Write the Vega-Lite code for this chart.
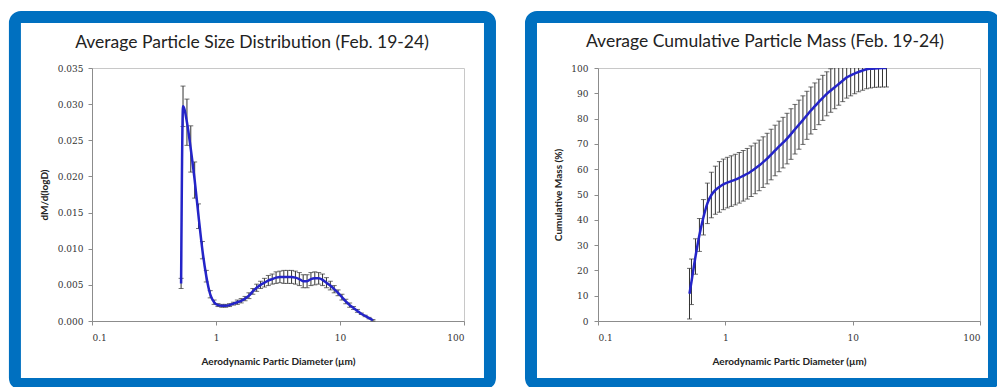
{
  "$schema": "https://vega.github.io/schema/vega-lite/v6.json",
  "background": "white",
  "padding": {"left": 8, "top": 10, "right": 0, "bottom": 0},
  "config": {
    "view": {"stroke": "#C8C8C8", "strokeWidth": 1},
    "axis": {"grid": false, "zindex": 1, "labelOverlap": false, "domainColor": "#8C8C8C", "tickColor": "#8C8C8C", "tickSize": 4, "labelFont": "DejaVu Serif", "labelFontSize": 9, "labelColor": "#333333", "titleFont": "Lato", "titleFontWeight": "bold", "titleFontSize": 10, "titleColor": "#222222"},
    "title": {"font": "Lato", "fontSize": 17.5, "fontWeight": "normal", "color": "#222222", "baseline": "alphabetic", "offset": -40, "anchor": "middle"},
    "concat": {"spacing": 27}
  },
  "hconcat": [
    {
      "width": 372,
      "height": 253,
      "title": {"text": "Average Particle Size Distribution (Feb. 19-24)", "dx": -26},
      "data": {"values": [
        {"d": 0.523, "m": 0.0052, "e": 0.0007},
        {"d": 0.542, "m": 0.0297, "e": 0.0028},
        {"d": 0.583, "m": 0.0275, "e": 0.0032},
        {"d": 0.626, "m": 0.0238, "e": 0.0032},
        {"d": 0.673, "m": 0.0195, "e": 0.0025},
        {"d": 0.723, "m": 0.0145, "e": 0.0017},
        {"d": 0.777, "m": 0.0098, "e": 0.0012},
        {"d": 0.835, "m": 0.0062, "e": 0.0008},
        {"d": 0.898, "m": 0.0037, "e": 0.0005},
        {"d": 0.965, "m": 0.0026, "e": 0.0003},
        {"d": 1.037, "m": 0.0022, "e": 0.0002},
        {"d": 1.114, "m": 0.0021, "e": 0.0002},
        {"d": 1.197, "m": 0.0021, "e": 0.0002},
        {"d": 1.286, "m": 0.0022, "e": 0.0002},
        {"d": 1.382, "m": 0.0024, "e": 0.0002},
        {"d": 1.486, "m": 0.0026, "e": 0.0003},
        {"d": 1.596, "m": 0.0028, "e": 0.0003},
        {"d": 1.715, "m": 0.0031, "e": 0.0003},
        {"d": 1.843, "m": 0.0035, "e": 0.0004},
        {"d": 1.981, "m": 0.0041, "e": 0.0004},
        {"d": 2.129, "m": 0.0046, "e": 0.0005},
        {"d": 2.288, "m": 0.0050, "e": 0.0005},
        {"d": 2.458, "m": 0.0053, "e": 0.0006},
        {"d": 2.642, "m": 0.0056, "e": 0.0007},
        {"d": 2.839, "m": 0.0058, "e": 0.0007},
        {"d": 3.051, "m": 0.0060, "e": 0.0008},
        {"d": 3.278, "m": 0.0061, "e": 0.0008},
        {"d": 3.523, "m": 0.0061, "e": 0.0009},
        {"d": 3.786, "m": 0.0061, "e": 0.0009},
        {"d": 4.068, "m": 0.0061, "e": 0.0009},
        {"d": 4.371, "m": 0.0060, "e": 0.0009},
        {"d": 4.698, "m": 0.0058, "e": 0.0009},
        {"d": 5.048, "m": 0.0055, "e": 0.0009},
        {"d": 5.425, "m": 0.0055, "e": 0.0009},
        {"d": 5.829, "m": 0.0058, "e": 0.0009},
        {"d": 6.264, "m": 0.0059, "e": 0.0009},
        {"d": 6.732, "m": 0.0059, "e": 0.0008},
        {"d": 7.234, "m": 0.0057, "e": 0.0008},
        {"d": 7.774, "m": 0.0053, "e": 0.0007},
        {"d": 8.354, "m": 0.0049, "e": 0.0006},
        {"d": 8.977, "m": 0.0044, "e": 0.0005},
        {"d": 9.647, "m": 0.0039, "e": 0.0004},
        {"d": 10.37, "m": 0.0033, "e": 0.0004},
        {"d": 11.14, "m": 0.0027, "e": 0.0003},
        {"d": 11.97, "m": 0.0022, "e": 0.0003},
        {"d": 12.86, "m": 0.0018, "e": 0.0002},
        {"d": 13.82, "m": 0.0014, "e": 0.0002},
        {"d": 14.86, "m": 0.0010, "e": 0.0001},
        {"d": 15.96, "m": 0.0007, "e": 0.0001},
        {"d": 17.15, "m": 0.0004, "e": 0.0001},
        {"d": 18.43, "m": 0.0001, "e": 0.0001}
      ]},
      "layer": [
        {
          "mark": {"type": "errorbar", "ticks": {"size": 5}, "color": "#333333", "thickness": 1},
          "encoding": {
            "x": {"field": "d", "type": "quantitative", "scale": {"type": "log", "domain": [0.1, 100], "nice": false},
                  "axis": {"title": "Aerodynamic Partic Diameter (µm)", "values": [0.1, 1, 10, 100], "format": "~g", "labelPadding": 8, "titlePadding": 14, "labelOverlap": false}},
            "y": {"field": "m", "type": "quantitative", "scale": {"domain": [0, 0.035], "nice": false, "zero": false},
                  "axis": {"title": "dM/d(logD)", "values": [0, 0.005, 0.01, 0.015, 0.02, 0.025, 0.03, 0.035], "format": ".3f", "labelPadding": 5, "titlePadding": 8, "labelOverlap": false}},
            "yError": {"field": "e"}
          }
        },
        {
          "mark": {"type": "line", "color": "#2424C8", "strokeWidth": 2.5, "interpolate": "monotone"},
          "encoding": {
            "x": {"field": "d", "type": "quantitative", "scale": {"type": "log", "domain": [0.1, 100], "nice": false},
                  "axis": {"title": "Aerodynamic Partic Diameter (µm)", "values": [0.1, 1, 10, 100], "format": "~g", "labelPadding": 8, "titlePadding": 14, "labelOverlap": false}},
            "y": {"field": "m", "type": "quantitative", "scale": {"domain": [0, 0.035], "nice": false, "zero": false},
                  "axis": {"title": "dM/d(logD)", "values": [0, 0.005, 0.01, 0.015, 0.02, 0.025, 0.03, 0.035], "format": ".3f", "labelPadding": 5, "titlePadding": 8, "labelOverlap": false}}
          }
        },
        {
          "data": {"values": [{}]},
          "mark": {"type": "rect", "fill": null, "fillOpacity": 0, "stroke": "#0070C0", "strokeWidth": 12, "cornerRadius": 6, "clip": false},
          "encoding": {
            "x": {"datum": 0.0239, "type": "quantitative", "scale": {"type": "log", "domain": [0.1, 100], "nice": false},
                  "axis": {"title": "Aerodynamic Partic Diameter (µm)", "values": [0.1, 1, 10, 100], "format": "~g", "labelPadding": 8, "titlePadding": 14, "labelOverlap": false}},
            "x2": {"datum": 162},
            "y": {"datum": 0.04205, "type": "quantitative", "scale": {"domain": [0, 0.035], "nice": false, "zero": false},
                  "axis": {"title": "dM/d(logD)", "values": [0, 0.005, 0.01, 0.015, 0.02, 0.025, 0.03, 0.035], "format": ".3f", "labelPadding": 5, "titlePadding": 8, "labelOverlap": false}},
            "y2": {"datum": -0.0087}
          }
        }
      ]
    },
    {
      "width": 382,
      "height": 253,
      "title": {"text": "Average Cumulative Particle Mass (Feb. 19-24)", "dx": -24},
      "data": {"values": [
        {"d": 0.523, "c": 10.8, "e": 10},
        {"d": 0.542, "c": 15.5, "e": 9},
        {"d": 0.583, "c": 25.5, "e": 7},
        {"d": 0.626, "c": 34, "e": 6.5},
        {"d": 0.673, "c": 41, "e": 7},
        {"d": 0.723, "c": 46.5, "e": 8},
        {"d": 0.777, "c": 49.8, "e": 9},
        {"d": 0.835, "c": 51.7, "e": 9.5},
        {"d": 0.898, "c": 53, "e": 10},
        {"d": 0.965, "c": 54, "e": 10},
        {"d": 1.037, "c": 54.7, "e": 10},
        {"d": 1.114, "c": 55.3, "e": 10},
        {"d": 1.197, "c": 55.9, "e": 10},
        {"d": 1.286, "c": 56.6, "e": 10},
        {"d": 1.382, "c": 57.4, "e": 10},
        {"d": 1.486, "c": 58.2, "e": 10},
        {"d": 1.596, "c": 59.2, "e": 10},
        {"d": 1.715, "c": 60.3, "e": 10},
        {"d": 1.843, "c": 61.5, "e": 10},
        {"d": 1.981, "c": 62.8, "e": 10},
        {"d": 2.129, "c": 64.2, "e": 10},
        {"d": 2.288, "c": 65.8, "e": 10},
        {"d": 2.458, "c": 67.4, "e": 10},
        {"d": 2.642, "c": 69, "e": 10},
        {"d": 2.839, "c": 70.5, "e": 10},
        {"d": 3.051, "c": 72.1, "e": 10},
        {"d": 3.278, "c": 73.9, "e": 10},
        {"d": 3.523, "c": 75.8, "e": 9.8},
        {"d": 3.786, "c": 77.6, "e": 9.7},
        {"d": 4.068, "c": 79.4, "e": 9.6},
        {"d": 4.371, "c": 81.3, "e": 9.5},
        {"d": 4.698, "c": 83.2, "e": 9.3},
        {"d": 5.048, "c": 84.9, "e": 9.2},
        {"d": 5.425, "c": 86.6, "e": 9},
        {"d": 5.829, "c": 88.2, "e": 8.9},
        {"d": 6.264, "c": 89.8, "e": 8.7},
        {"d": 6.732, "c": 91.1, "e": 8.6},
        {"d": 7.234, "c": 92.4, "e": 8.5},
        {"d": 7.774, "c": 93.7, "e": 8.4},
        {"d": 8.354, "c": 95, "e": 8.3},
        {"d": 8.977, "c": 96.3, "e": 8.2},
        {"d": 9.647, "c": 97.1, "e": 8.1},
        {"d": 10.37, "c": 97.8, "e": 8},
        {"d": 11.14, "c": 98.5, "e": 7.9},
        {"d": 11.97, "c": 99, "e": 7.8},
        {"d": 12.86, "c": 99.5, "e": 7.7},
        {"d": 13.82, "c": 99.7, "e": 7.6},
        {"d": 14.86, "c": 99.85, "e": 7.5},
        {"d": 15.96, "c": 99.93, "e": 7.5},
        {"d": 17.15, "c": 99.97, "e": 7.5},
        {"d": 18.43, "c": 100, "e": 7.5}
      ]},
      "layer": [
        {
          "mark": {"type": "errorbar", "ticks": {"size": 5}, "color": "#333333", "thickness": 1, "clip": true},
          "encoding": {
            "x": {"field": "d", "type": "quantitative", "scale": {"type": "log", "domain": [0.1, 100], "nice": false},
                  "axis": {"title": "Aerodynamic Partic Diameter (µm)", "values": [0.1, 1, 10, 100], "format": "~g", "labelPadding": 8, "titlePadding": 14, "labelOverlap": false}},
            "y": {"field": "c", "type": "quantitative", "scale": {"domain": [0, 100], "nice": false, "zero": false},
                  "axis": {"title": "Cumulative Mass (%)", "values": [0, 10, 20, 30, 40, 50, 60, 70, 80, 90, 100], "format": "d", "labelPadding": 6, "titlePadding": 7, "labelOverlap": false}},
            "yError": {"field": "e"}
          }
        },
        {
          "mark": {"type": "line", "color": "#2424C8", "strokeWidth": 2.5, "interpolate": "monotone", "clip": true},
          "encoding": {
            "x": {"field": "d", "type": "quantitative", "scale": {"type": "log", "domain": [0.1, 100], "nice": false},
                  "axis": {"title": "Aerodynamic Partic Diameter (µm)", "values": [0.1, 1, 10, 100], "format": "~g", "labelPadding": 8, "titlePadding": 14, "labelOverlap": false}},
            "y": {"field": "c", "type": "quantitative", "scale": {"domain": [0, 100], "nice": false, "zero": false},
                  "axis": {"title": "Cumulative Mass (%)", "values": [0, 10, 20, 30, 40, 50, 60, 70, 80, 90, 100], "format": "d", "labelPadding": 6, "titlePadding": 7, "labelOverlap": false}}
          }
        },
        {
          "data": {"values": [{}]},
          "mark": {"type": "rect", "fill": null, "fillOpacity": 0, "stroke": "#0070C0", "strokeWidth": 12, "cornerRadius": 6, "clip": false},
          "encoding": {
            "x": {"datum": 0.02977, "type": "quantitative", "scale": {"type": "log", "domain": [0.1, 100], "nice": false},
                  "axis": {"title": "Aerodynamic Partic Diameter (µm)", "values": [0.1, 1, 10, 100], "format": "~g", "labelPadding": 8, "titlePadding": 14, "labelOverlap": false}},
            "x2": {"datum": 128.8},
            "y": {"datum": 120.16, "type": "quantitative", "scale": {"domain": [0, 100], "nice": false, "zero": false},
                  "axis": {"title": "Cumulative Mass (%)", "values": [0, 10, 20, 30, 40, 50, 60, 70, 80, 90, 100], "format": "d", "labelPadding": 6, "titlePadding": 7, "labelOverlap": false}},
            "y2": {"datum": -24.9}
          }
        }
      ]
    }
  ]
}
